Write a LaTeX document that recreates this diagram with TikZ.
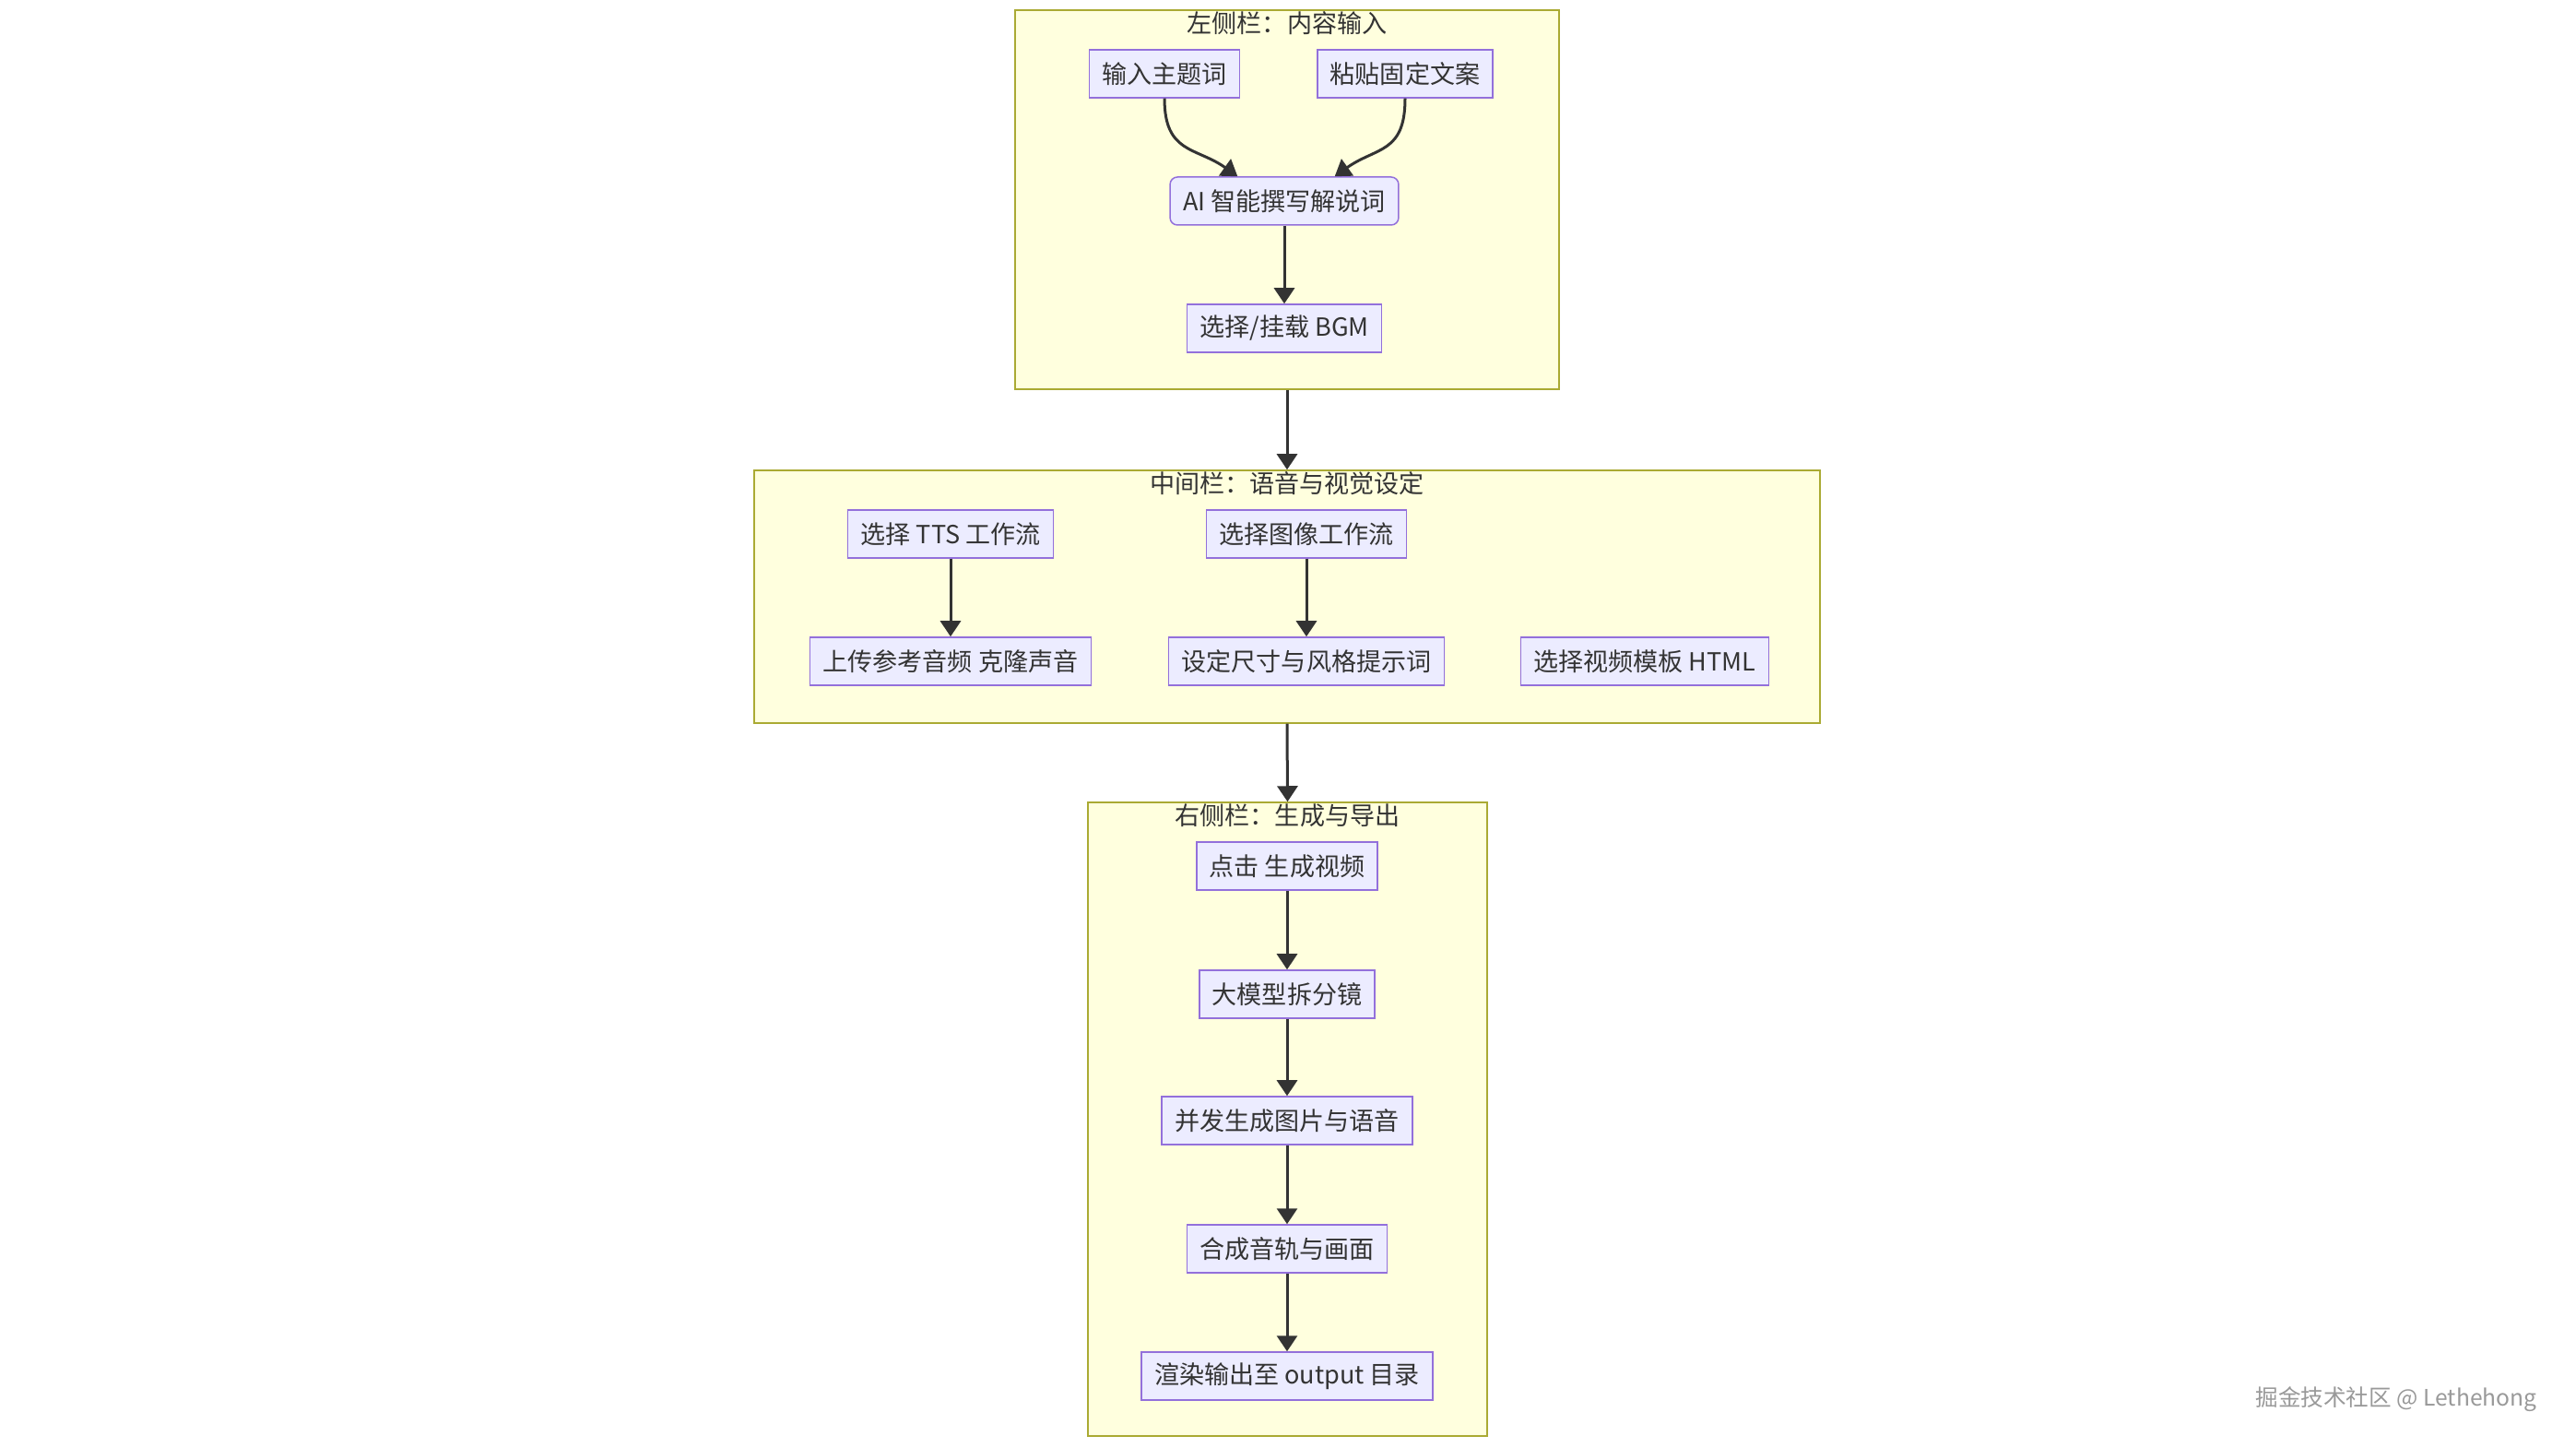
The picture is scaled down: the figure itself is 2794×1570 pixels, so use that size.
\documentclass[tikz,border=0pt]{standalone}
\usepackage{fontspec}
\setmainfont{Noto Sans CJK SC}
\usepackage{tikz}
\usetikzlibrary{arrows.meta,positioning}
\definecolor{nodefill}{HTML}{ECECFF}
\definecolor{nodeline}{HTML}{9370DB}
\definecolor{groupfill}{HTML}{FFFFDE}
\definecolor{groupline}{HTML}{AAAA33}
\definecolor{ink}{HTML}{333333}
\tikzset{
  group/.style  = {draw=groupline, fill=groupfill, line width=0.15mm},
  gtitle/.style = {text=ink, inner sep=0pt, font=\fontsize{7.7}{9}\selectfont},
  proc/.style   = {draw=nodeline, fill=nodefill, line width=0.15mm, text=ink,
                   minimum height=5.2mm, inner xsep=1.4mm, inner ysep=0pt,
                   font=\fontsize{7.7}{9}\selectfont},
  rproc/.style  = {proc, rounded corners=0.8mm},
  flow/.style   = {-{Triangle[length=1.7mm,width=2.2mm]}, line width=0.3mm, draw=ink},
}
\begin{document}
\begin{tikzpicture}[x=0.1mm,y=-0.1mm]
  \useasboundingbox[fill=white] (0,0) rectangle (2794,1570);
  % groups
  \node[group, minimum width=59mm,   minimum height=41.1mm] (left)  at (1396,216.5) {};
  \node[group, minimum width=115.6mm, minimum height=27.4mm] (mid)  at (1396,647) {};
  \node[group, minimum width=43.3mm, minimum height=68.7mm] (right) at (1396.5,1213.5) {};
  \node[gtitle] at ([yshift=-1.5mm]left.north)  {左侧栏：内容输入};
  \node[gtitle] at ([yshift=-1.5mm]mid.north)   {中间栏：语音与视觉设定};
  \node[gtitle] at ([yshift=-1.5mm]right.north) {右侧栏：生成与导出};
  % left
  \node[proc]  (topic) at (1263,80)  {输入主题词};
  \node[proc]  (paste) at (1524,80)  {粘贴固定文案};
  \node[rproc] (ai)    at (1393,218) {AI 智能撰写解说词};
  \node[proc]  (bgm)   at (1393,356) {选择/挂载 BGM};
  \draw[flow] (topic.south) .. controls +(0,60) and +(-45,-32) .. ([xshift=7.4mm]ai.north west);
  \draw[flow] (paste.south) .. controls +(0,60) and +(45,-32) .. ([xshift=-7.0mm]ai.north east);
  \draw[flow] (ai) -- (bgm);
  % middle
  \node[proc] (tts)   at (1031,579) {选择 TTS 工作流};
  \node[proc] (image) at (1417,579) {选择图像工作流};
  \node[proc] (clone) at (1031,717) {上传参考音频 克隆声音};
  \node[proc] (size)  at (1417,717) {设定尺寸与风格提示词};
  \node[proc] (tmpl)  at (1784,717) {选择视频模板 HTML};
  \draw[flow] (tts) -- (clone);
  \draw[flow] (image) -- (size);
  % right
  \node[proc] (click)  at (1396,939)  {点击 生成视频};
  \node[proc] (split)  at (1396,1078) {大模型拆分镜};
  \node[proc] (gen)    at (1396,1215) {并发生成图片与语音};
  \node[proc] (merge)  at (1396,1354) {合成音轨与画面};
  \node[proc] (render) at (1396,1492) {渲染输出至 output 目录};
  \draw[flow] (click) -- (split);
  \draw[flow] (split) -- (gen);
  \draw[flow] (gen) -- (merge);
  \draw[flow] (merge) -- (render);
  % between groups
  \draw[flow] (left.south) -- (mid.north);
  \draw[flow] (mid.south) -- (right.north);
  \node[text=black!40, font=\fontsize{7}{8}\selectfont] (mark) at (2599,1517) {掘金技术社区 @ Lethehong};
\end{tikzpicture}
\end{document}
